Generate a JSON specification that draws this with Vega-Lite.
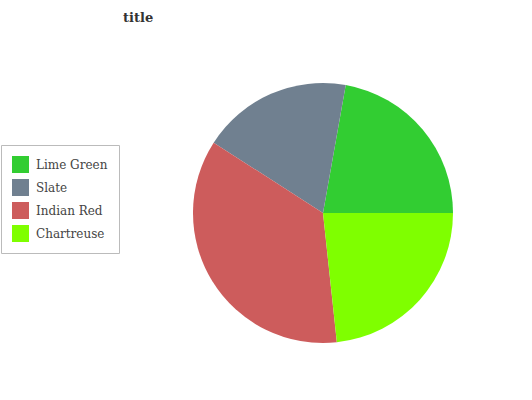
{
  "$schema": "https://vega.github.io/schema/vega-lite/v6.json",
  "width": 400,
  "height": 374,
  "autosize": "none",
  "padding": {"left": 123, "top": 26, "right": 0, "bottom": 0},
  "background": "white",
  "title": {"text": "title", "anchor": "start", "frame": "group", "font": "DejaVu Serif", "fontSize": 13, "fontWeight": "bold", "color": "#333333", "offset": 1},
  "data": {"values": [
    {"category": "Lime Green", "value": 22.2, "ord": 4},
    {"category": "Slate", "value": 18.7, "ord": 3},
    {"category": "Indian Red", "value": 35.8, "ord": 2},
    {"category": "Chartreuse", "value": 23.3, "ord": 1}
  ]},
  "mark": {"type": "arc", "outerRadius": 130},
  "encoding": {
    "theta": {"field": "value", "type": "quantitative", "stack": true, "scale": {"range": [1.5707963, 7.8539816]}},
    "order": {"field": "ord", "type": "quantitative", "sort": "ascending"},
    "color": {
      "field": "category", "type": "nominal",
      "scale": {"domain": ["Lime Green", "Slate", "Indian Red", "Chartreuse"], "range": ["#32CD32", "#708090", "#CD5C5C", "#7FFF00"]},
      "legend": {
        "title": null, "orient": "none", "legendX": -122, "legendY": 119,
        "symbolType": "square", "symbolSize": 289, "symbolStrokeWidth": 0,
        "labelFont": "DejaVu Serif", "labelFontSize": 12, "labelColor": "#444444",
        "rowPadding": 6, "padding": 11, "strokeColor": "#bbbbbb", "fillColor": "white", "labelOffset": 7
      }
    }
  },
  "config": {"view": {"stroke": null}}
}
